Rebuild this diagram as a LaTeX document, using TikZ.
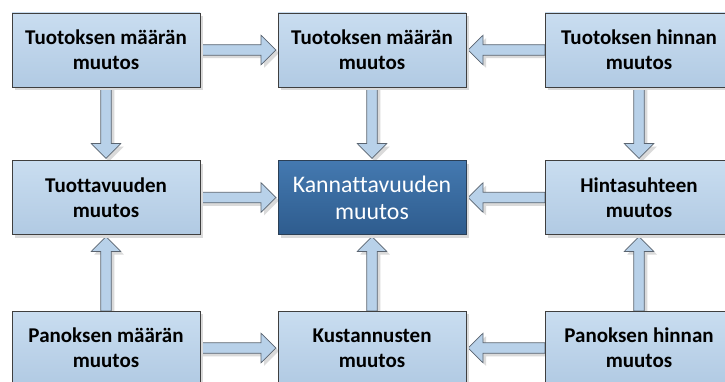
\documentclass[tikz,border=0pt]{standalone}
\usepackage{fontspec}
\setmainfont{Carlito}[Ligatures=NoCommon]
\usetikzlibrary{calc,shadows}

\definecolor{boxtop}{HTML}{C9DDF0}
\definecolor{boxbot}{HTML}{B1CAE3}
\definecolor{boxline}{HTML}{3F3F3F}
\definecolor{keytop}{HTML}{4479B0}
\definecolor{keybot}{HTML}{2E5C8E}
\definecolor{keyline}{HTML}{2B3F55}
\definecolor{arrowfill}{HTML}{B8D1E9}
\definecolor{arrowline}{HTML}{5A6470}
\definecolor{shadowgray}{HTML}{DADADA}

\tikzset{
  box/.style={draw=boxline, line width=0.9pt, top color=boxtop, bottom color=boxbot,
    minimum width=188pt, minimum height=74pt, inner sep=0pt, align=center,
    font=\bfseries\fontsize{21}{25}\selectfont, text=black,
    drop shadow={shadow xshift=3pt, shadow yshift=-3pt, fill=shadowgray, opacity=1}},
  keybox/.style={box, draw=keyline, top color=keytop, bottom color=keybot,
    text=white, font=\fontsize{23.8}{27}\selectfont},
  blockarrow/.style={draw=arrowline, fill=arrowfill, line width=0.7pt, line join=miter},
  blockshadow/.style={fill=shadowgray, draw=none},
}

% block arrow from one anchor to another, stopping 2pt short of the target
\newcommand\arrowoutline{(0,-5.25) -- (\falen-15,-5.25) -- (\falen-15,-14.75) -- (\falen,0)
  -- (\falen-15,14.75) -- (\falen-15,5.25) -- (0,5.25) -- cycle}
\newcommand\flowarrow[2]{%
  \path (#1) coordinate (fa-s) (#2) coordinate (fa-e);
  \path let \p1=($(fa-e)-(fa-s)$), \n1={veclen(\x1,\y1)-2}, \n2={atan2(\y1,\x1)} in
    \pgfextra{\xdef\falen{\n1}\xdef\faang{\n2}};
  \fill[blockshadow, shift={($(fa-s)+(3,-3)$)}, rotate=\faang] \arrowoutline;
  \draw[blockarrow, shift={(fa-s)}, rotate=\faang] \arrowoutline;
}

\begin{document}
\begin{tikzpicture}[x=1pt, y=1pt]
  \clip (0,0) rectangle (725,381);
  \fill[white] (0,0) rectangle (725,381);

  % positions of the nine boxes (named coordinates only, boxes drawn last)
  \coordinate (p-tl) at (106,331);
  \coordinate (p-tm) at (372,331);
  \coordinate (p-tr) at (639,331);
  \coordinate (p-ml) at (106,183.5);
  \coordinate (p-c)  at (372,183.5);
  \coordinate (p-mr) at (639,183.5);
  \coordinate (p-bl) at (106,33);
  \coordinate (p-bm) at (372,33);
  \coordinate (p-br) at (639,33);

  % anchors of the boxes (half size 94 x 37)
  \coordinate (tl-e) at ($(p-tl)+(94,0)$);  \coordinate (tl-s) at ($(p-tl)+(0,-37)$);
  \coordinate (tm-w) at ($(p-tm)+(-94,0)$); \coordinate (tm-e) at ($(p-tm)+(94,0)$);
  \coordinate (tm-s) at ($(p-tm)+(0,-37)$);
  \coordinate (tr-w) at ($(p-tr)+(-94,0)$); \coordinate (tr-s) at ($(p-tr)+(0,-37)$);
  \coordinate (ml-e) at ($(p-ml)+(94,0)$);  \coordinate (ml-n) at ($(p-ml)+(0,37)$);
  \coordinate (c-w)  at ($(p-c)+(-94,0)$);  \coordinate (c-e)  at ($(p-c)+(94,0)$);
  \coordinate (c-n)  at ($(p-c)+(0,37)$);   \coordinate (c-s)  at ($(p-c)+(0,-37)$);
  \coordinate (mr-w) at ($(p-mr)+(-94,0)$); \coordinate (mr-n) at ($(p-mr)+(0,37)$);
  \coordinate (mr-s) at ($(p-mr)+(0,-37)$); \coordinate (ml-s) at ($(p-ml)+(0,-37)$);
  \coordinate (bl-n) at ($(p-bl)+(0,37)$);  \coordinate (bl-e) at ($(p-bl)+(94,0)$);
  \coordinate (bm-n) at ($(p-bm)+(0,37)$);  \coordinate (bm-w) at ($(p-bm)+(-94,0)$);
  \coordinate (bm-e) at ($(p-bm)+(94,0)$);
  \coordinate (br-n) at ($(p-br)+(0,37)$);  \coordinate (br-w) at ($(p-br)+(-94,0)$);

  % block arrows
  \flowarrow{tl-e}{tm-w}
  \flowarrow{tr-w}{tm-e}
  \flowarrow{tl-s}{ml-n}
  \flowarrow{tm-s}{c-n}
  \flowarrow{tr-s}{mr-n}
  \flowarrow{ml-e}{c-w}
  \flowarrow{mr-w}{c-e}
  \flowarrow{bl-n}{ml-s}
  \flowarrow{bm-n}{c-s}
  \flowarrow{br-n}{mr-s}
  \flowarrow{bl-e}{bm-w}
  \flowarrow{br-w}{bm-e}

  % boxes
  \node[box] (tl) at (p-tl) {Tuotoksen määrän\\muutos};
  \node[box] (tm) at (p-tm) {Tuotoksen määrän\\muutos};
  \node[box] (tr) at (p-tr) {Tuotoksen hinnan\\muutos};
  \node[box] (ml) at (p-ml) {Tuottavuuden\\muutos};
  \node[keybox] (c) at (p-c) {Kannattavuuden\\muutos};
  \node[box] (mr) at (p-mr) {Hintasuhteen\\muutos};
  \node[box] (bl) at (p-bl) {Panoksen määrän\\muutos};
  \node[box] (bm) at (p-bm) {Kustannusten\\muutos};
  \node[box] (br) at (p-br) {Panoksen hinnan\\muutos};
\end{tikzpicture}
\end{document}
